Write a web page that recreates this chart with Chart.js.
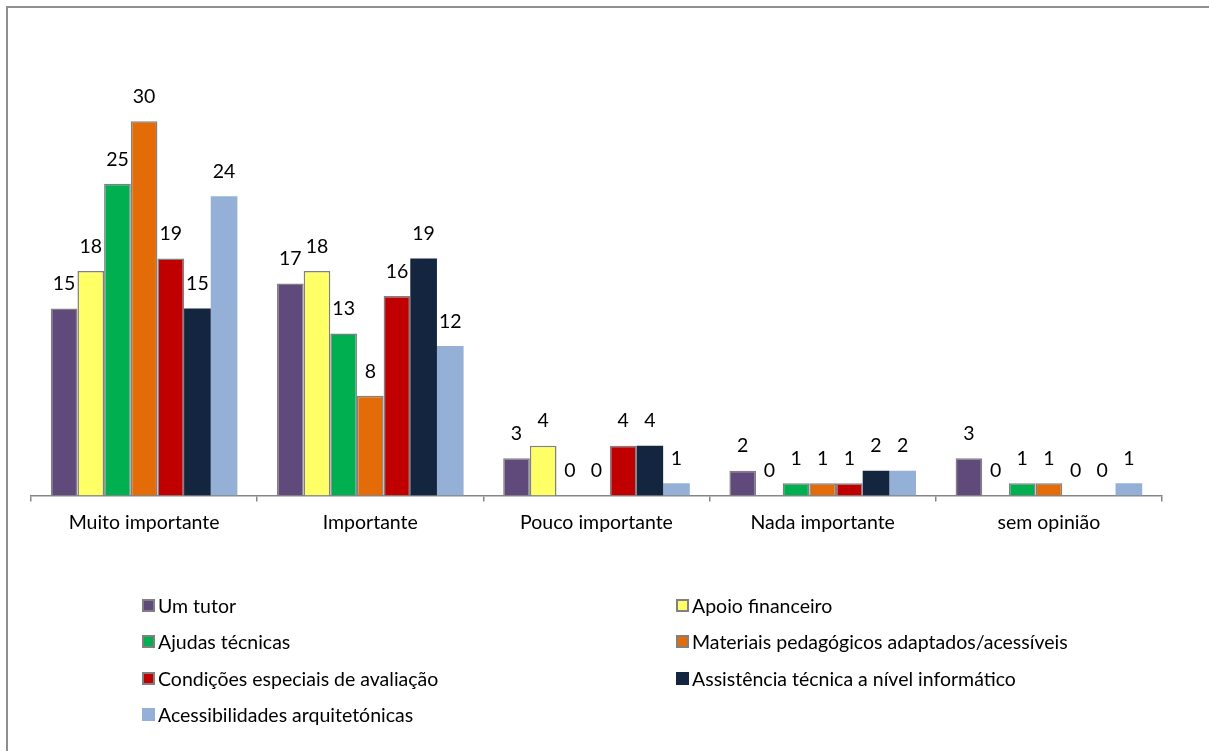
<!DOCTYPE html>
<html>
<head>
<meta charset="utf-8">
<script src="https://cdn.jsdelivr.net/npm/chart.js@4"></script>
<style>
  html, body { margin: 0; padding: 0; background: #fff; overflow: hidden; }
  #frame { position: absolute; left: 6px; top: 6px; width: 1240px; height: 780px;
           border: 2px solid #8f8f8f; box-sizing: border-box; }
  #wrap { position: absolute; left: 0; top: 0; width: 1209px; height: 751px; }
  #legend { position: absolute; left: 0; top: 0; font-family: Lato, sans-serif; font-size: 19.5px; color: #000; }
  .item { position: absolute; display: flex; align-items: center; white-space: nowrap; height: 24px; }
  .swatch { width: 13px; height: 13px; box-sizing: border-box; margin-right: 3px; }
</style>
</head>
<body>
<div id="frame"></div>
<div id="wrap"><canvas id="c" width="1209" height="751"></canvas></div>
<div id="legend"></div>
<script>
// Response categories
const categories = ['Muito importante', 'Importante', 'Pouco importante', 'Nada importante', 'sem opinião'];

// Support types (series)
const seriesNames = [
  'Um tutor',
  'Apoio financeiro',
  'Ajudas técnicas',
  'Materiais pedagógicos adaptados/acessíveis',
  'Condições especiais de avaliação',
  'Assistência técnica a nível informático',
  'Acessibilidades arquitetónicas'
];

// Counts per category
const umTutor          = [15, 17, 3, 2, 3];
const apoioFinanceiro  = [18, 18, 4, 0, 0];
const ajudasTecnicas   = [25, 13, 0, 1, 1];
const materiais        = [30, 8, 0, 1, 1];
const condicoes        = [19, 16, 4, 1, 0];
const assistencia      = [15, 19, 4, 2, 0];
const acessibilidades  = [24, 12, 1, 2, 1];

const seriesValues = [umTutor, apoioFinanceiro, ajudasTecnicas, materiais, condicoes, assistencia, acessibilidades];
const fillColors   = ['#604A7B', '#FFFF66', '#00B050', '#E36C09', '#C00000', '#13253F', '#95B0D6'];
const outlined     = [true, true, true, true, true, false, false];

const FONT = 'Lato, sans-serif';
const FONT_SIZE = 19.5;

const datasets = seriesNames.map((name, i) => ({
  label: name,
  data: seriesValues[i],
  backgroundColor: fillColors[i],
  borderColor: outlined[i] ? '#808080' : fillColors[i],
  borderWidth: outlined[i] ? 1.5 : 0,
  borderSkipped: 'bottom'
}));

// Value labels above each bar
const valueLabels = {
  id: 'valueLabels',
  afterDatasetsDraw(chart) {
    const ctx = chart.ctx;
    ctx.save();
    ctx.font = FONT_SIZE + 'px ' + FONT;
    ctx.fillStyle = '#000';
    ctx.textAlign = 'center';
    ctx.textBaseline = 'middle';
    chart.data.datasets.forEach((ds, di) => {
      const meta = chart.getDatasetMeta(di);
      meta.data.forEach((bar, i) => {
        ctx.fillText(String(ds.data[i]), bar.x, bar.y - 24.5);
      });
    });
    ctx.restore();
  }
};

const chart = new Chart(document.getElementById('c'), {
  type: 'bar',
  data: { labels: categories, datasets },
  options: {
    responsive: false,
    animation: false,
    layout: { padding: { left: 31, right: 47, top: 59, bottom: 208 } },
    datasets: { bar: { categoryPercentage: 0.825, barPercentage: 1 } },
    plugins: { legend: { display: false }, tooltip: { enabled: false } },
    scales: {
      x: {
        grid: { drawOnChartArea: false, drawTicks: true, tickLength: 6, color: '#868686', lineWidth: 1.5 },
        border: { display: true, color: '#868686', width: 1.5 },
        ticks: { color: '#000', font: { family: FONT, size: FONT_SIZE }, padding: 9 }
      },
      y: { display: false, min: 0, max: 35 }
    }
  },
  plugins: [valueLabels]
});

// Two-column legend built from the chart's datasets
const legendCols = [142, 676];
const legendRows = [605, 641.5, 678, 714.5];
const legendEl = document.getElementById('legend');
chart.data.datasets.forEach((ds, i) => {
  const item = document.createElement('div');
  item.className = 'item';
  item.style.left = legendCols[i % 2] + 'px';
  item.style.top = (legendRows[Math.floor(i / 2)] - 12) + 'px';
  const sw = document.createElement('span');
  sw.className = 'swatch';
  sw.style.background = ds.backgroundColor;
  if (outlined[i]) sw.style.border = '2px solid #808080';
  const tx = document.createElement('span');
  tx.textContent = ds.label;
  item.appendChild(sw);
  item.appendChild(tx);
  legendEl.appendChild(item);
});
</script>
</body>
</html>
